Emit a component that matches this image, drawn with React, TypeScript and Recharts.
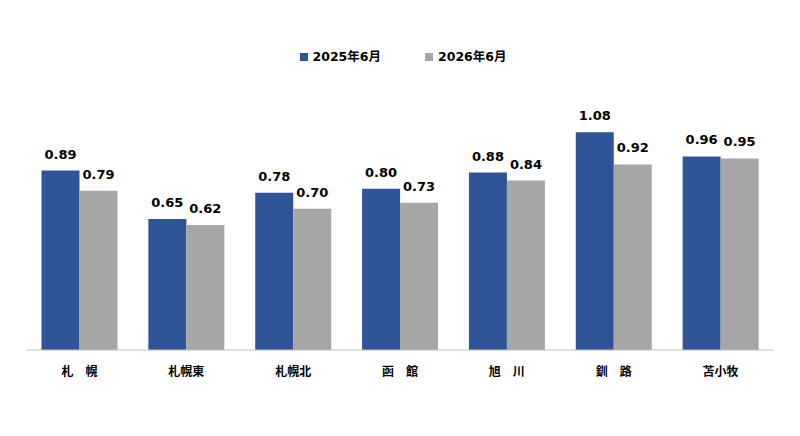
import React from 'react';
import { BarChart, Bar, XAxis, YAxis, Legend, LabelList } from 'recharts';

const categories = ['札\u3000幌', '札幌東', '札幌北', '函\u3000館', '旭\u3000川', '釧\u3000路', '苫小牧'];
const series2025 = [0.89, 0.65, 0.78, 0.80, 0.88, 1.08, 0.96];
const series2026 = [0.79, 0.62, 0.70, 0.73, 0.84, 0.92, 0.95];
const seriesNames = ['2025年6月', '2026年6月'];
const colors = ['#2F5597', '#A6A6A6'];

const data = categories.map((c, i) => ({ name: c, a: series2025[i], b: series2026[i] }));

const FONT = '"DejaVu Sans", "Noto Sans CJK JP", sans-serif';

const LegendContent = () => (
  <div style={{ display: 'flex', justifyContent: 'center', gap: 44, fontFamily: FONT, fontWeight: 'bold', fontSize: 12.5, color: '#000', paddingLeft: 6 }}>
    {seriesNames.map((n, i) => (
      <div key={n} style={{ display: 'flex', alignItems: 'center' }}>
        <span style={{ display: 'inline-block', width: 8, height: 8, background: colors[i], marginRight: 5, marginTop: 2 }} />
        <span>{n}</span>
      </div>
    ))}
  </div>
);

export default function App() {
  return (
    <div style={{ position: 'absolute', left: 0, top: 0, width: 800, height: 436, background: '#fff' }}>
      <BarChart
        width={800}
        height={436}
        data={data}
        margin={{ top: 89, right: 26, bottom: 56, left: 26 }}
        barCategoryGap="14.5%"
        barGap={0}
      >
        <XAxis
          dataKey="name"
          tickLine={false}
          axisLine={{ stroke: '#BFBFBF' }}
          tickMargin={11}
          tick={{ fill: '#000', fontSize: 12, fontWeight: 'bold', fontFamily: FONT }}
          interval={0}
        />
        <YAxis hide domain={[0, 1.2]} />
        <Legend verticalAlign="top" content={<LegendContent />} wrapperStyle={{ top: 46, left: 0, width: 800 }} />
        <Bar dataKey="a" fill={colors[0]} isAnimationActive={false}>
          <LabelList dataKey="a" position="top" offset={12} formatter={(v: number) => v.toFixed(2)} style={{ fill: '#000', fontSize: 13, fontWeight: 'bold', fontFamily: FONT }} />
        </Bar>
        <Bar dataKey="b" fill={colors[1]} isAnimationActive={false}>
          <LabelList dataKey="b" position="top" offset={12} formatter={(v: number) => v.toFixed(2)} style={{ fill: '#000', fontSize: 13, fontWeight: 'bold', fontFamily: FONT }} />
        </Bar>
      </BarChart>
    </div>
  );
}
